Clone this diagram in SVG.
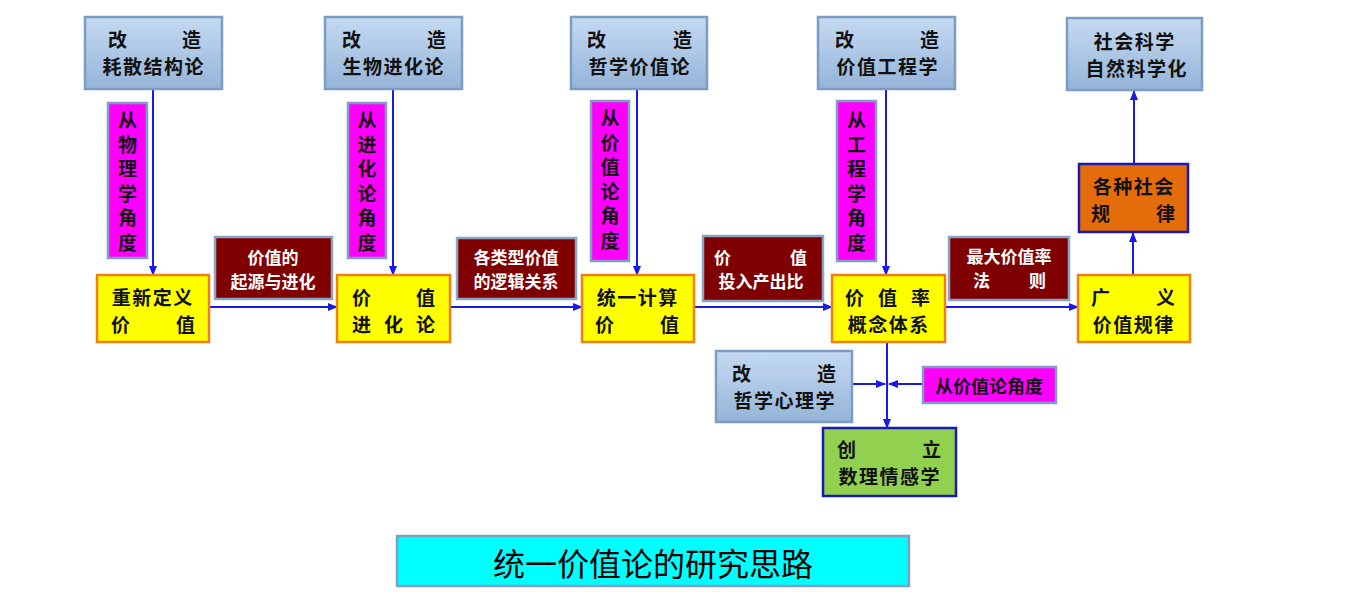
<svg xmlns="http://www.w3.org/2000/svg" width="1370" height="603" viewBox="0 0 1370 603">
<defs>
<linearGradient id="gblue" x1="0" y1="0" x2="0" y2="1">
<stop offset="0" stop-color="#c5daf2"/>
<stop offset="1" stop-color="#95b4d8"/>
</linearGradient>
<marker id="ah" markerWidth="10" markerHeight="8" refX="9" refY="4" orient="auto" markerUnits="userSpaceOnUse">
<path d="M0,0 L10,4 L0,8 Z" fill="#1a1ae6"/>
</marker>
<style>
.blue{fill:url(#gblue);stroke:#7c9cc4;stroke-width:2.5}
.mag{fill:#ff00ff;stroke:#7f9fc0;stroke-width:2.5}
.yel{fill:#ffff00;stroke:#f07e1a;stroke-width:2.5}
.red{fill:#7f0000;stroke:#8aa4c4;stroke-width:2.5}
.org{fill:#e46c0a;stroke:#1a1ab0;stroke-width:2.5}
.grn{fill:#92d050;stroke:#1a1ab0;stroke-width:2.5}
.cyan{fill:#00ffff;stroke:#7f9fc0;stroke-width:2.5}
text{font-family:"Noto Sans CJK SC","Liberation Sans",sans-serif;dominant-baseline:central}
.t{font-size:19px;font-weight:bold;fill:#111;letter-spacing:1.5px}
.v{font-size:19px;font-weight:bold;fill:#111;writing-mode:vertical-rl;letter-spacing:5.5px}
.w{font-size:17px;font-weight:bold;fill:#ffffff}
.c{text-anchor:middle}
.conn line{stroke:#1a1ae6;stroke-width:2;marker-end:url(#ah)}
</style>
</defs>
<rect width="1370" height="603" fill="#ffffff"/>

<g class="conn" id="connectors">
<line x1="153" y1="89" x2="153" y2="275"/>
<line x1="393" y1="88" x2="393" y2="275"/>
<line x1="637" y1="88" x2="637" y2="275"/>
<line x1="886" y1="88" x2="886" y2="275"/>
<line x1="209" y1="307" x2="337" y2="307"/>
<line x1="450" y1="307" x2="582" y2="307"/>
<line x1="694" y1="307" x2="832" y2="307"/>
<line x1="945" y1="307" x2="1078" y2="307"/>
<line x1="1133" y1="275" x2="1133" y2="233"/>
<line x1="1134" y1="164" x2="1134" y2="91"/>
<line x1="887" y1="342" x2="887" y2="428"/>
<line x1="852" y1="384" x2="885" y2="384"/>
<line x1="923" y1="384" x2="889" y2="384"/>
</g>

<g id="n_haosan">
<rect class="blue" x="85" y="17" width="137" height="72"/>
<text class="t"><tspan x="108" y="37.5">改</tspan><tspan x="182" y="37.5">造</tspan><tspan x="102.5" y="64.5">耗散结构论</tspan></text>
</g>
<g id="n_shengwu">
<rect class="blue" x="325" y="17" width="137" height="72"/>
<text class="t"><tspan x="342" y="37.5">改</tspan><tspan x="427" y="37.5">造</tspan><tspan x="342.5" y="64.5">生物进化论</tspan></text>
</g>
<g id="n_zhexue">
<rect class="blue" x="571" y="17" width="136" height="72"/>
<text class="t"><tspan x="587" y="37.5">改</tspan><tspan x="673" y="37.5">造</tspan><tspan x="588.5" y="64.5">哲学价值论</tspan></text>
</g>
<g id="n_gongcheng">
<rect class="blue" x="818" y="17" width="137" height="72"/>
<text class="t"><tspan x="835" y="37.5">改</tspan><tspan x="920" y="37.5">造</tspan><tspan x="836.5" y="64.5">价值工程学</tspan></text>
</g>
<g id="n_shehui">
<rect class="blue" x="1067" y="18" width="135" height="72"/>
<text class="t"><tspan x="1093.75" y="39.5">社会科学</tspan><tspan x="1085.5" y="66.5">自然科学化</tspan></text>
</g>

<g id="m_wuli">
<rect class="mag" x="108" y="103" width="39" height="155"/>
<text class="v" x="127.5" y="110.5">从物理学角度</text>
</g>
<g id="m_jinhua">
<rect class="mag" x="348" y="103" width="38" height="155"/>
<text class="v" x="367" y="110.5">从进化论角度</text>
</g>
<g id="m_jiazhi">
<rect class="mag" x="591" y="101" width="38" height="160"/>
<text class="v" x="610" y="108.5">从价值论角度</text>
</g>
<g id="m_gongcheng">
<rect class="mag" x="837" y="101" width="39" height="160"/>
<text class="v" x="856.5" y="110.5">从工程学角度</text>
</g>

<g id="y_chongxin">
<rect class="yel" x="97" y="275" width="112" height="67"/>
<text class="t"><tspan x="111.75" y="295.5">重新定义</tspan><tspan x="111" y="322.5">价</tspan><tspan x="176" y="322.5">值</tspan></text>
</g>
<g id="y_jinhualun">
<rect class="yel" x="337" y="275" width="113" height="67"/>
<text class="t"><tspan x="352" y="295.5">价</tspan><tspan x="416" y="295.5">值</tspan><tspan x="352" y="322.5">进</tspan><tspan x="384" y="322.5">化</tspan><tspan x="416" y="322.5">论</tspan></text>
</g>
<g id="y_tongyi">
<rect class="yel" x="582" y="275" width="112" height="67"/>
<text class="t"><tspan x="596.75" y="295.5">统一计算</tspan><tspan x="595" y="322.5">价</tspan><tspan x="660" y="322.5">值</tspan></text>
</g>
<g id="y_jiazhilv">
<rect class="yel" x="832" y="275" width="113" height="67"/>
<text class="t"><tspan x="845" y="295.5">价</tspan><tspan x="878" y="295.5">值</tspan><tspan x="911" y="295.5">率</tspan><tspan x="847.75" y="322.5">概念体系</tspan></text>
</g>
<g id="y_guangyi">
<rect class="yel" x="1078" y="275" width="112" height="67"/>
<text class="t"><tspan x="1091" y="295.5">广</tspan><tspan x="1156" y="295.5">义</tspan><tspan x="1092.75" y="322.5">价值规律</tspan></text>
</g>

<g id="r_qiyuan">
<rect class="red" x="215" y="237" width="117" height="62"/>
<text class="w"><tspan x="247.5" y="255.5">价值的</tspan><tspan x="230.5" y="279.5">起源与进化</tspan></text>
</g>
<g id="r_luoji">
<rect class="red" x="457" y="238" width="119" height="61"/>
<text class="w"><tspan x="473.5" y="256">各类型价值</tspan><tspan x="473.5" y="280">的逻辑关系</tspan></text>
</g>
<g id="r_touru">
<rect class="red" x="703" y="236" width="120" height="65"/>
<text class="w"><tspan x="714" y="255.5">价</tspan><tspan x="790" y="255.5">值</tspan><tspan x="718.5" y="279.5">投入产出比</tspan></text>
</g>
<g id="r_zuida">
<rect class="red" x="949" y="237" width="120" height="63"/>
<text class="w"><tspan x="966.5" y="255">最大价值率</tspan><tspan x="973" y="279">法</tspan><tspan x="1029" y="279">则</tspan></text>
</g>

<g id="o_guilv">
<rect class="org" x="1079" y="164" width="109" height="68"/>
<text class="t"><tspan x="1092.75" y="184.5">各种社会</tspan><tspan x="1091" y="211.5">规</tspan><tspan x="1156" y="211.5">律</tspan></text>
</g>

<g id="n_xinli">
<rect class="blue" x="716" y="351" width="136" height="71"/>
<text class="t"><tspan x="732" y="371.5">改</tspan><tspan x="817" y="371.5">造</tspan><tspan x="733.5" y="398.5">哲学心理学</tspan></text>
</g>
<g id="m_jiazhilun">
<rect class="mag" x="923" y="367" width="133" height="36"/>
<text class="c" x="989" y="385" style="font-size:18px;font-weight:bold;fill:#111">从价值论角度</text>
</g>
<g id="g_qinggan">
<rect class="grn" x="823" y="428" width="133" height="68"/>
<text class="t"><tspan x="837" y="447.5">创</tspan><tspan x="922" y="447.5">立</tspan><tspan x="838.5" y="474.5">数理情感学</tspan></text>
</g>

<g id="title">
<rect class="cyan" x="397" y="536" width="512" height="50"/>
<text class="c" x="653" y="562" style="font-size:32px;fill:#000">统一价值论的研究思路</text>
</g>
</svg>
